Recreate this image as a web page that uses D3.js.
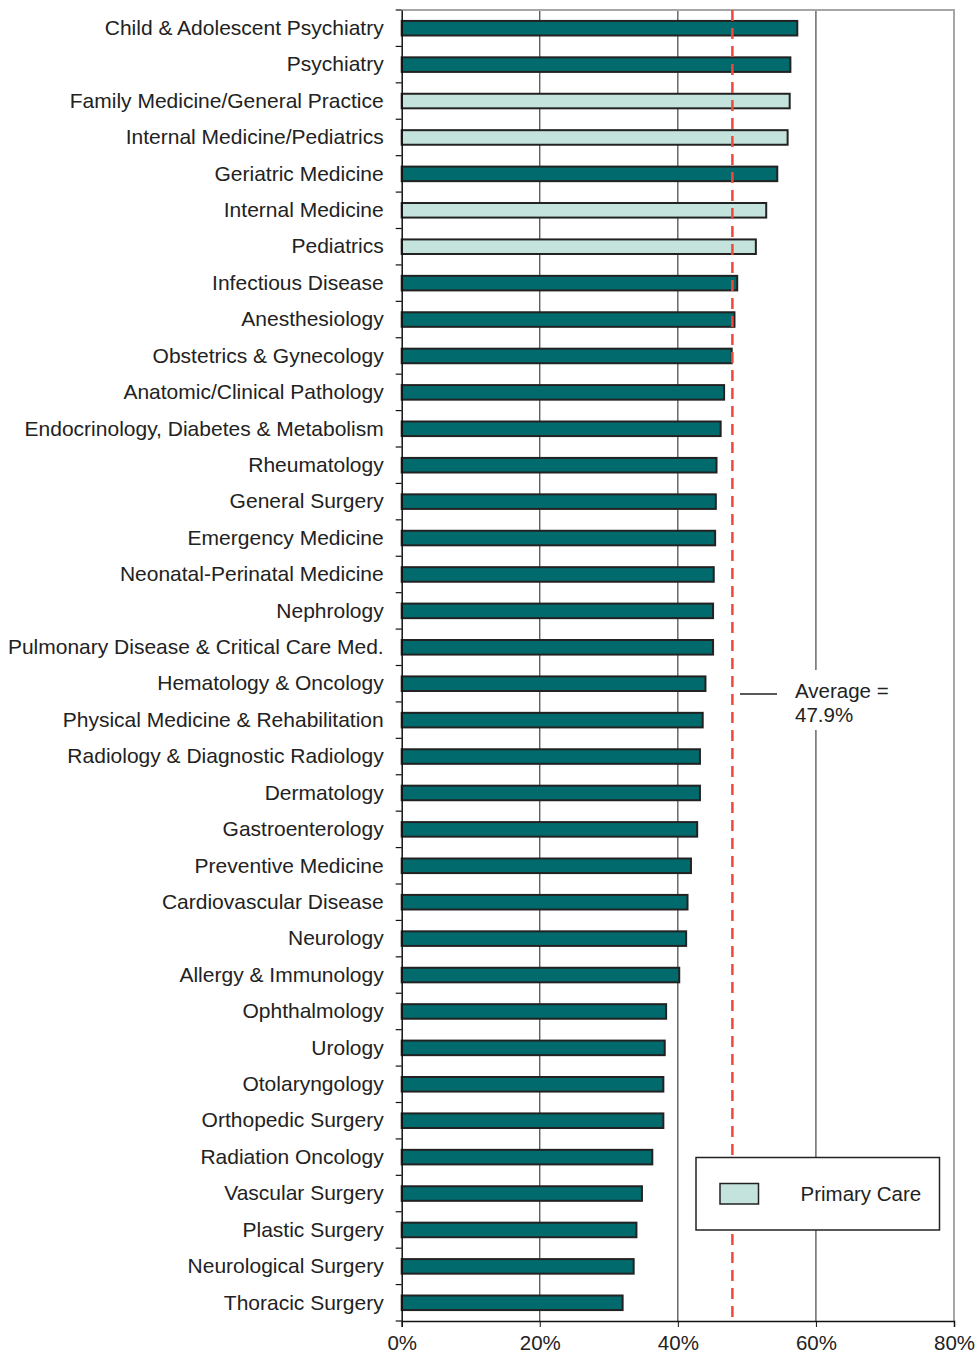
<!DOCTYPE html>
<html>
<head>
<meta charset="utf-8">
<script src="https://cdn.jsdelivr.net/npm/d3@7"></script>
<style>
  body { margin: 0; background: #fff; }
  text { font-family: Arial, "Liberation Sans", Helvetica, sans-serif; fill: #222; }
</style>
</head>
<body>
<svg id="chart"></svg>
<script>
// data
let specialties = [
  'Child & Adolescent Psychiatry', 'Psychiatry', 'Family Medicine/General Practice',
  'Internal Medicine/Pediatrics', 'Geriatric Medicine', 'Internal Medicine', 'Pediatrics',
  'Infectious Disease', 'Anesthesiology', 'Obstetrics & Gynecology',
  'Anatomic/Clinical Pathology', 'Endocrinology, Diabetes & Metabolism', 'Rheumatology',
  'General Surgery', 'Emergency Medicine', 'Neonatal-Perinatal Medicine', 'Nephrology',
  'Pulmonary Disease & Critical Care Med.', 'Hematology & Oncology',
  'Physical Medicine & Rehabilitation', 'Radiology & Diagnostic Radiology', 'Dermatology',
  'Gastroenterology', 'Preventive Medicine', 'Cardiovascular Disease', 'Neurology',
  'Allergy & Immunology', 'Ophthalmology', 'Urology', 'Otolaryngology',
  'Orthopedic Surgery', 'Radiation Oncology', 'Vascular Surgery', 'Plastic Surgery',
  'Neurological Surgery', 'Thoracic Surgery'
]
let rates = [
  57.3, 56.3, 56.2, 55.9, 54.4, 52.8, 51.3, 48.6, 48.2, 47.8,
  46.7, 46.2, 45.6, 45.5, 45.4, 45.2, 45.1, 45.1, 44.0, 43.6,
  43.2, 43.2, 42.8, 41.9, 41.4, 41.2, 40.2, 38.3, 38.1, 37.9,
  37.9, 36.3, 34.8, 34.0, 33.6, 32.0
]
let primaryCare = ['Family Medicine/General Practice', 'Internal Medicine/Pediatrics',
                   'Internal Medicine', 'Pediatrics']
let xTicks = [0, 20, 40, 60, 80]
let average = 47.9

let W = 977, H = 1356
let m = {top: 10, right: 23, bottom: 35, left: 401.7}
let fontSize = '20.5px'

let svg = d3.select('#chart').attr('width', W).attr('height', H)

let x = d3.scaleLinear().domain([0, 80]).range([m.left, W - m.right])
let y = d3.scaleBand().domain(specialties).range([m.top, H - m.bottom]).paddingInner(0.6).paddingOuter(0.3)
let band = d3.scaleBand().domain(specialties).range([m.top, H - m.bottom])

// gridlines
svg.append('g').selectAll('line')
  .data(xTicks.slice(1, -1))
  .enter().append('line')
  .attr('x1', d => x(d)).attr('x2', d => x(d))
  .attr('y1', m.top).attr('y2', H - m.bottom)
  .attr('stroke', '#333').attr('stroke-width', 1.1)

// top & right frame
svg.append('path')
  .attr('d', `M${x(0)},${m.top}H${x(80)}V${H - m.bottom}`)
  .attr('fill', 'none').attr('stroke', '#a6a6a6').attr('stroke-width', 2)

// bars
svg.append('g').selectAll('rect')
  .data(specialties)
  .enter().append('rect')
  .attr('x', x(0))
  .attr('y', d => y(d))
  .attr('width', (d, i) => x(rates[i]) - x(0))
  .attr('height', y.bandwidth())
  .attr('fill', d => primaryCare.includes(d) ? '#c4e3dc' : '#006a6c')
  .attr('stroke', '#222').attr('stroke-width', 2)

// average line
svg.append('line')
  .attr('x1', x(average)).attr('x2', x(average))
  .attr('y1', m.top).attr('y2', H - m.bottom)
  .attr('stroke', '#f0483c').attr('stroke-width', 2.5)
  .attr('stroke-dasharray', '11,7')

// y axis
let yAxis = svg.append('g')
  .attr('transform', `translate(${x(0)},0)`)
  .call(d3.axisLeft(band).tickSize(0).tickPadding(18))
yAxis.attr('font-family', null)
yAxis.select('.domain').attr('stroke', '#111').attr('stroke-width', 1.5)
yAxis.selectAll('text').attr('font-size', '21px').attr('fill', '#222')
// ticks between categories
yAxis.append('g').selectAll('line')
  .data(specialties.concat(['_end']))
  .enter().append('line')
  .attr('x1', -6).attr('x2', 0)
  .attr('y1', (d, i) => m.top + i * band.step())
  .attr('y2', (d, i) => m.top + i * band.step())
  .attr('stroke', '#111').attr('stroke-width', 1.2)

// x axis
let xAxis = svg.append('g')
  .attr('transform', `translate(0,${H - m.bottom})`)
  .call(d3.axisBottom(x).tickValues(xTicks).tickFormat(d => d + '%').tickSize(6).tickPadding(8))
xAxis.attr('font-family', null)
xAxis.select('.domain').attr('stroke', '#111').attr('stroke-width', 1.5)
xAxis.selectAll('.tick line').attr('stroke', '#111')
xAxis.selectAll('text').attr('font-size', fontSize).attr('fill', '#222')

// average annotation
svg.append('rect')
  .attr('x', 789).attr('y', 670).attr('width', 108).attr('height', 60)
  .attr('fill', '#fff')
svg.append('line')
  .attr('x1', 740).attr('x2', 777).attr('y1', 694).attr('y2', 694)
  .attr('stroke', '#222').attr('stroke-width', 1.3)
svg.append('text').attr('x', 795).attr('y', 697.5)
  .attr('font-size', fontSize).text('Average =')
svg.append('text').attr('x', 795).attr('y', 721.5)
  .attr('font-size', fontSize).text(average + '%')

// legend
let legend = svg.append('g')
legend.append('rect')
  .attr('x', 696).attr('y', 1157.5).attr('width', 243.5).attr('height', 72.5)
  .attr('fill', '#fff').attr('stroke', '#222').attr('stroke-width', 1.5)
legend.append('rect')
  .attr('x', 720).attr('y', 1183.5).attr('width', 38.5).attr('height', 20.5)
  .attr('fill', '#c4e3dc').attr('stroke', '#222').attr('stroke-width', 1.5)
legend.append('text').attr('x', 800.5).attr('y', 1201)
  .attr('font-size', fontSize).text('Primary Care')
</script>
</body>
</html>
